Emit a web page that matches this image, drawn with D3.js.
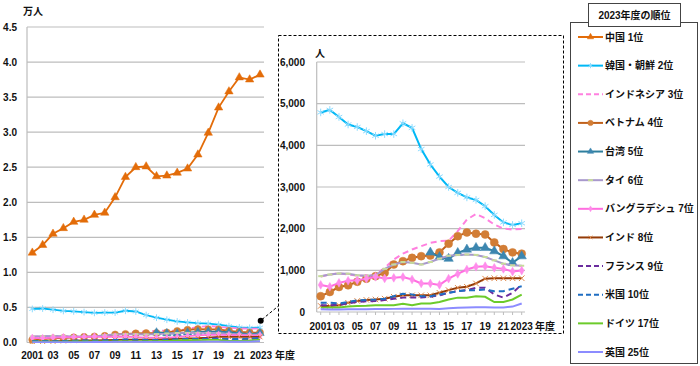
<!DOCTYPE html>
<html>
<head>
<meta charset="utf-8">
<script src="https://cdn.jsdelivr.net/npm/d3@7"></script>
<style>
body { margin: 0; background: #fff; }
text { font-family: "Liberation Sans", "Noto Sans CJK JP", sans-serif; font-size: 10px; font-weight: bold; fill: #111; }
</style>
</head>
<body>
<svg id="chart" width="700" height="366"></svg>
<script>
// fiscal years
const years = [2001, 2002, 2003, 2004, 2005, 2006, 2007, 2008, 2009, 2010, 2011, 2012,
  2013, 2014, 2015, 2016, 2017, 2018, 2019, 2020, 2021, 2022, 2023];
const tickYears = [2001, 2003, 2005, 2007, 2009, 2011, 2013, 2015, 2017, 2019, 2021, 2023];
const tickLabels = ["2001", "03", "05", "07", "09", "11", "13", "15", "17", "19", "21", "2023"];

// persons per fiscal year
const china = [12800, 13900, 15500, 16300, 17200, 17500, 18200, 18500, 20700, 23600, 25000, 25100,
  23700, 23800, 24200, 24800, 26800, 29900, 33500, 35800, 37800, 37500, 38200];
const korea = [4790, 4850, 4680, 4500, 4440, 4340, 4230, 4270, 4270, 4530, 4420, 3910,
  3540, 3250, 3000, 2860, 2750, 2690, 2540, 2330, 2150, 2090, 2130];
const indonesia = [850, 900, 930, 900, 870, 870, 890, 1060, 1260, 1400, 1500, 1580,
  1660, 1700, 1710, 1940, 2220, 2350, 2250, 2100, 2000, 1980, 1990];
const vietnam = [380, 480, 600, 640, 725, 800, 860, 940, 1140, 1220, 1300, 1340,
  1355, 1430, 1640, 1820, 1910, 1880, 1860, 1670, 1510, 1430, 1400];
const taiwan = [null, null, null, null, null, null, null, null, null, null, null, null,
  1430, 1320, 1280, 1420, 1500, 1540, 1540, 1460, 1340, 1180, 1340];
const thailand = [860, 900, 925, 920, 880, 870, 880, 1035, 1140, 1200, 1180, 1140,
  1200, 1280, 1350, 1370, 1380, 1370, 1320, 1240, 1160, 1120, 1110];
const bangladesh = [650, 605, 700, 750, 760, 800, 845, 805, 820, 840, 780, 685,
  685, 650, 800, 915, 1020, 1085, 1100, 1060, 1035, 970, 995];
const india = [145, 145, 160, 220, 265, 290, 300, 320, 365, 400, 400, 400,
  400, 460, 525, 580, 605, 685, 800, 810, 810, 810, 810];
const france = [160, 160, 175, 205, 240, 255, 265, 290, 320, 345, 350, 350,
  365, 400, 460, 500, 525, 580, 580, 420, 345, 460, 660];
const usa = [225, 225, 205, 240, 280, 290, 300, 320, 380, 440, 420, 380,
  380, 420, 460, 500, 520, 520, 540, 500, 500, 560, 620];
const germany = [105, 110, 110, 130, 145, 150, 160, 160, 160, 200, 160, 205,
  205, 240, 300, 345, 345, 380, 365, 240, 240, 300, 415];
const uk = [65, 60, 60, 65, 65, 65, 70, 70, 75, 80, 80, 80,
  80, 75, 90, 100, 110, 115, 115, 110, 110, 130, 205];

const legendTitle = "2023年度の順位";
const legendLabels = ["中国 1位", "韓国・朝鮮 2位", "インドネシア 3位", "ベトナム 4位", "台湾 5位",
  "タイ 6位", "バングラデシュ 7位", "インド 8位", "フランス 9位", "米国 10位", "ドイツ 17位", "英国 25位"];

const leftTicks = [0, 0.5, 1.0, 1.5, 2.0, 2.5, 3.0, 3.5, 4.0, 4.5];
const insetTicks = [0, 1000, 2000, 3000, 4000, 5000, 6000];

const seriesValues = [china, korea, indonesia, vietnam, taiwan, thailand, bangladesh, india, france, usa, germany, uk];
const seriesStyle = [
  {color: '#E36C09', marker: 'triangle', mColor: '#E36C09'},
  {color: '#00B8F5', marker: 'asterisk', mColor: '#8EDCFF'},
  {color: '#FF80DF', dash: '6 4'},
  {color: '#C0611B', marker: 'circle', mColor: '#D27D35'},
  {color: '#2E7F9E', marker: 'triangle', mColor: '#3C86B0'},
  {color: '#A898CC', marker: 'dash', mColor: '#C6DB9A'},
  {color: '#FF6EE0', marker: 'diamond', mColor: '#FF8CEB'},
  {color: '#943B07', marker: 'times', mColor: '#E0894A'},
  {color: '#6A2C9E', dash: '6 4'},
  {color: '#1F6EC2', dash: '6 4'},
  {color: '#6CCB2B'},
  {color: '#8C8CFF'}
];

const svg = d3.select('#chart');

function drawMarkers(g, pts, st, scale) {
  if (!st.marker) return;
  const m = g.selectAll(null).data(pts).enter();
  if (st.marker === 'dash') {
    m.append('line')
      .attr('x1', d => d[0] - 2.5).attr('x2', d => d[0] + 2.5)
      .attr('y1', d => d[1]).attr('y2', d => d[1])
      .attr('stroke', st.mColor).attr('stroke-width', 2);
    return;
  }
  const types = {triangle: d3.symbolTriangle, circle: d3.symbolCircle, diamond: d3.symbolDiamond,
    asterisk: d3.symbolAsterisk, times: d3.symbolTimes};
  const sizes = {triangle: 38, circle: 50, diamond: 22, asterisk: 40, times: 22};
  const stroked = st.marker === 'asterisk' || st.marker === 'times';
  m.append('path')
    .attr('d', d3.symbol().type(types[st.marker]).size(sizes[st.marker] * scale))
    .attr('transform', d => `translate(${d[0]},${d[1]})`)
    .attr('fill', stroked ? 'none' : st.mColor)
    .attr('stroke', st.mColor)
    .attr('stroke-width', stroked ? 1 : 0.5);
}

function drawPanel(g, x, y, div, widthScale, markerScale) {
  seriesValues.forEach((vals, i) => {
    const st = seriesStyle[i];
    const pts = years.map((yr, j) => vals[j] == null ? null : [x(yr), y(vals[j] / div)]);
    const line = d3.line().defined(d => d != null).x(d => d[0]).y(d => d[1]);
    g.append('path')
      .attr('d', line(pts))
      .attr('fill', 'none')
      .attr('stroke', st.color)
      .attr('stroke-width', 2 * widthScale)
      .attr('stroke-dasharray', st.dash || null);
    drawMarkers(g, pts.filter(p => p), st, markerScale);
  });
}

// ---- left chart (万人)
const xL = d3.scaleLinear().domain([2001, 2023]).range([32.3, 260]);
const yL = d3.scaleLinear().domain([0, 4.5]).range([342.5, 27]);
const left = svg.append('g');

left.selectAll('.grid').data(leftTicks.filter(t => t > 0)).enter().append('line')
  .attr('x1', 27).attr('x2', 264)
  .attr('y1', d => yL(d)).attr('y2', d => yL(d))
  .attr('stroke', '#BDBDBD').attr('stroke-width', 1.2);
left.append('line').attr('x1', 27).attr('x2', 27).attr('y1', yL(4.5)).attr('y2', yL(0))
  .attr('stroke', '#BDBDBD').attr('stroke-width', 1.2);
left.append('line').attr('x1', 27).attr('x2', 264).attr('y1', yL(0)).attr('y2', yL(0))
  .attr('stroke', '#BDBDBD').attr('stroke-width', 1.2);

left.selectAll('.ytl').data(leftTicks).enter().append('text')
  .attr('x', 17).attr('y', d => yL(d)).attr('dy', '0.35em')
  .attr('text-anchor', 'end').text(d => d3.format('.1f')(d));
left.selectAll('.xtl').data(tickYears).enter().append('text')
  .attr('x', (d, i) => xL(d) + (i === tickYears.length - 1 ? 1 : 0))
  .attr('y', 355).attr('dy', '0.35em')
  .attr('text-anchor', 'middle').text((d, i) => tickLabels[i]);
left.append('text').attr('x', 275).attr('y', 355).attr('dy', '0.35em').text('年度');
left.append('text').attr('x', 23).attr('y', 11).attr('dy', '0.35em').text('万人');

drawPanel(left.append('g'), xL, yL, 10000, 0.9, 0.8);

// connector to inset
svg.append('line').attr('x1', 262).attr('y1', 319.5).attr('x2', 279).attr('y2', 305.5)
  .attr('stroke', '#000').attr('stroke-width', 1).attr('stroke-dasharray', '3 2');
svg.append('circle').attr('cx', 260.7).attr('cy', 320.7).attr('r', 3).attr('fill', '#000');

// ---- inset (人)
svg.append('rect').attr('x', 278.5).attr('y', 35.5).attr('width', 285).attr('height', 298)
  .attr('fill', '#fff').attr('stroke', '#000').attr('stroke-width', 1).attr('stroke-dasharray', '3 2');

const xR = d3.scaleLinear().domain([2001, 2023]).range([320.7, 521.7]);
const yR = d3.scaleLinear().domain([0, 6000]).range([312, 62]);
const inset = svg.append('g');

inset.selectAll('.grid').data(insetTicks.filter(t => t > 0)).enter().append('line')
  .attr('x1', 316.7).attr('x2', 525)
  .attr('y1', d => yR(d)).attr('y2', d => yR(d))
  .attr('stroke', '#BDBDBD').attr('stroke-width', 1.2);
inset.append('line').attr('x1', 316.7).attr('x2', 316.7).attr('y1', yR(6000)).attr('y2', yR(0))
  .attr('stroke', '#BDBDBD').attr('stroke-width', 1.2);
inset.append('line').attr('x1', 316.7).attr('x2', 525).attr('y1', yR(0)).attr('y2', yR(0))
  .attr('stroke', '#BDBDBD').attr('stroke-width', 1.2);
inset.selectAll('.tick').data(years).enter().append('line')
  .attr('x1', d => xR(d)).attr('x2', d => xR(d))
  .attr('y1', yR(0)).attr('y2', yR(0) + 3)
  .attr('stroke', '#BDBDBD');

inset.selectAll('.ytl').data(insetTicks).enter().append('text')
  .attr('x', 305).attr('y', d => yR(d)).attr('dy', '0.35em')
  .attr('text-anchor', 'end').text(d => d3.format(',')(d));
inset.selectAll('.xtl').data(tickYears).enter().append('text')
  .attr('x', d => xR(d)).attr('y', 326).attr('dy', '0.35em')
  .attr('text-anchor', 'middle').text((d, i) => tickLabels[i]);
inset.append('text').attr('x', 535).attr('y', 326).attr('dy', '0.35em').text('年度');
inset.append('text').attr('x', 315).attr('y', 53).attr('dy', '0.35em').text('人');

drawPanel(inset.append('g'), xR, yR, 1, 1, 1);

// ---- legend
const legend = svg.append('g');
legend.append('rect').attr('x', 570.5).attr('y', 22.5).attr('width', 127).attr('height', 341)
  .attr('fill', '#fff').attr('stroke', '#444').attr('stroke-width', 1);
legend.append('rect').attr('x', 588.5).attr('y', 3.5).attr('width', 92).attr('height', 23)
  .attr('fill', '#fff').attr('stroke', '#444').attr('stroke-width', 1);
legend.append('text').attr('x', 634.5).attr('y', 15).attr('dy', '0.35em')
  .attr('text-anchor', 'middle').text(legendTitle);

const ly = d3.scalePoint().domain(legendLabels).range([37, 352]);
legendLabels.forEach((lab, i) => {
  const st = seriesStyle[i];
  const yy = ly(lab);
  const row = legend.append('g');
  row.append('line').attr('x1', 578).attr('x2', 603).attr('y1', yy).attr('y2', yy)
    .attr('stroke', st.color).attr('stroke-width', 2)
    .attr('stroke-dasharray', st.dash ? '5 3' : null);
  drawMarkers(row, [[590.5, yy]], st, 0.45);
  row.append('text').attr('x', 605).attr('y', yy).attr('dy', '0.35em').text(lab);
});
</script>
</body>
</html>
